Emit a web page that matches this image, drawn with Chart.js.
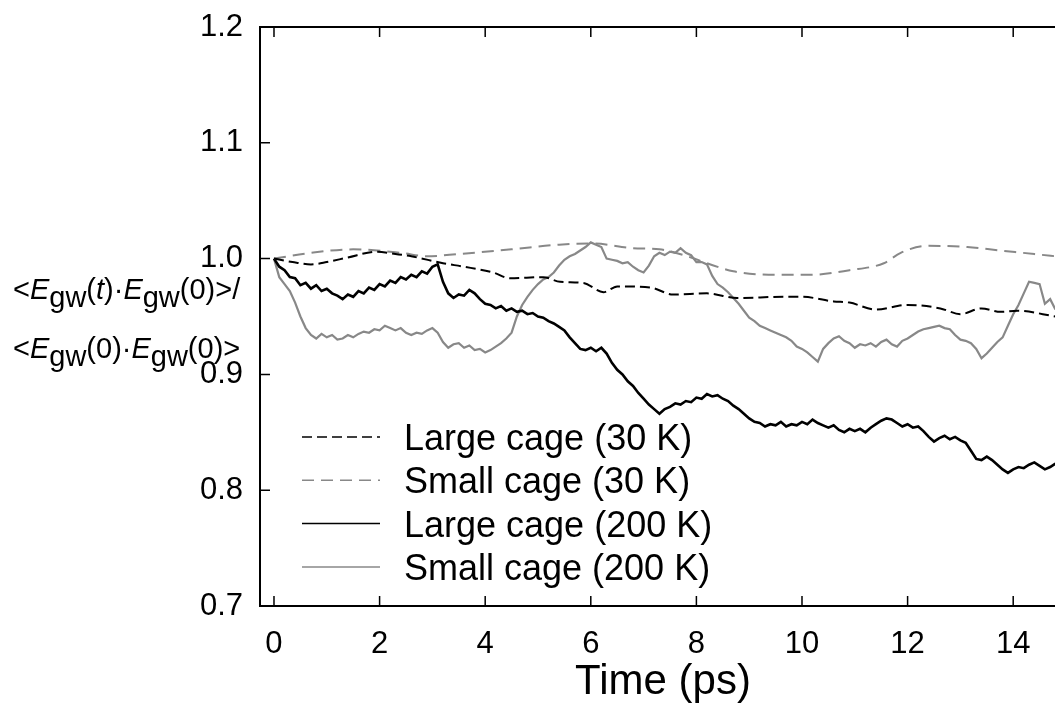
<!DOCTYPE html>
<html>
<head>
<meta charset="utf-8">
<script src="https://cdn.jsdelivr.net/npm/chart.js@4"></script>
<style>
  html, body { margin: 0; padding: 0; background: #fff; overflow: hidden; }
  #wrap { width: 1080px; height: 708px; }
</style>
</head>
<body>
<div id="wrap"><canvas id="myChart" width="1080" height="708"></canvas></div>
<script>
const xTicks = [0, 2, 4, 6, 8, 10, 12, 14];
const yTicks = [0.7, 0.8, 0.9, 1.0, 1.1, 1.2];

const seriesLabels = ["Large cage (30 K)", "Small cage (30 K)", "Large cage (200 K)", "Small cage (200 K)"];

// 30 K runs (smooth)
const large30Time = [0, 0.35, 0.7, 1.0, 1.4, 1.95, 2.3, 2.6, 3.2, 3.6, 4.15, 4.47, 5.1, 5.42, 5.86, 6.24, 6.5, 7.13, 7.56, 8.2, 8.77, 9.65, 10.0, 10.6, 10.9, 11.4, 12.0, 12.62, 13.0, 13.4, 13.76, 14.08, 14.8];
const large30Val = [1.0, 0.997, 0.995, 0.997, 1.001, 1.006, 1.004, 1.002, 0.996, 0.993, 0.988, 0.983, 0.984, 0.980, 0.979, 0.971, 0.976, 0.975, 0.969, 0.970, 0.966, 0.967, 0.967, 0.963, 0.962, 0.956, 0.960, 0.957, 0.952, 0.957, 0.954, 0.955, 0.950];

const small30Time = [0, 0.7, 1.5, 2.4, 2.9, 3.5, 4.5, 5.4, 6.05, 6.8, 7.3, 7.9, 8.2, 8.7, 9.5, 10.16, 10.9, 11.55, 11.87, 12.37, 13.13, 13.76, 14.8];
const small30Val = [1.0, 1.005, 1.008, 1.005, 1.002, 1.004, 1.008, 1.012, 1.013, 1.009, 1.008, 1.001, 0.996, 0.989, 0.986, 0.986, 0.990, 0.996, 1.005, 1.011, 1.010, 1.007, 1.002];

// 200 K runs, sampled every 0.1 ps
const time200 = Array.from({ length: 149 }, (_, i) => +(i * 0.1).toFixed(1));
const large200Val = [
  1.000, 0.993, 0.990, 0.984, 0.983, 0.977, 0.979, 0.974, 0.977, 0.972,
  0.974, 0.970, 0.968, 0.965, 0.969, 0.967, 0.972, 0.970, 0.975, 0.973,
  0.978, 0.976, 0.981, 0.979, 0.984, 0.982, 0.986, 0.984, 0.989, 0.987,
  0.993, 0.995, 0.980, 0.970, 0.966, 0.969, 0.968, 0.973, 0.970, 0.965,
  0.961, 0.960, 0.957, 0.959, 0.955, 0.957, 0.954, 0.955, 0.952, 0.953,
  0.950, 0.949, 0.946, 0.944, 0.941, 0.938, 0.932, 0.927, 0.922, 0.921,
  0.923, 0.920, 0.923, 0.918, 0.910, 0.904, 0.900, 0.894, 0.890, 0.884,
  0.879, 0.874, 0.870, 0.866, 0.870, 0.872, 0.875, 0.874, 0.877, 0.876,
  0.880, 0.879, 0.883, 0.881, 0.882, 0.879, 0.877, 0.873, 0.870, 0.866,
  0.862, 0.859, 0.858, 0.855, 0.857, 0.856, 0.859, 0.855, 0.857, 0.856,
  0.859, 0.857, 0.861, 0.858, 0.856, 0.854, 0.856, 0.852, 0.850, 0.853,
  0.851, 0.853, 0.850, 0.854, 0.857, 0.860, 0.862, 0.861, 0.858, 0.855,
  0.857, 0.854, 0.855, 0.851, 0.846, 0.842, 0.845, 0.847, 0.844, 0.846,
  0.843, 0.841, 0.834, 0.827, 0.826, 0.829, 0.826, 0.822, 0.818, 0.815,
  0.818, 0.820, 0.819, 0.822, 0.824, 0.821, 0.818, 0.820, 0.823
];
const small200Val = [
  1.000, 0.984, 0.978, 0.972, 0.962, 0.950, 0.940, 0.934, 0.931, 0.935,
  0.932, 0.934, 0.930, 0.931, 0.934, 0.932, 0.935, 0.937, 0.936, 0.939,
  0.938, 0.942, 0.940, 0.938, 0.940, 0.936, 0.934, 0.936, 0.935, 0.938,
  0.940, 0.936, 0.928, 0.923, 0.926, 0.927, 0.923, 0.925, 0.921, 0.922,
  0.919, 0.921, 0.924, 0.927, 0.931, 0.936, 0.950, 0.960, 0.967, 0.973,
  0.978, 0.982, 0.984, 0.988, 0.994, 0.999, 1.002, 1.004, 1.007, 1.010,
  1.014, 1.012, 1.010, 1.000, 0.999, 0.998, 0.996, 0.997, 0.993, 0.990,
  0.988, 0.994, 1.002, 1.005, 1.003, 1.006, 1.005, 1.009, 1.005, 1.003,
  0.997, 0.997, 0.995, 0.985, 0.978, 0.975, 0.971, 0.966, 0.961, 0.955,
  0.949, 0.946, 0.942, 0.940, 0.938, 0.936, 0.934, 0.932, 0.929, 0.924,
  0.922, 0.919, 0.915, 0.911, 0.922, 0.927, 0.931, 0.933, 0.929, 0.927,
  0.923, 0.926, 0.925, 0.927, 0.924, 0.928, 0.930, 0.926, 0.924, 0.929,
  0.931, 0.934, 0.937, 0.939, 0.940, 0.941, 0.942, 0.940, 0.939, 0.934,
  0.930, 0.929, 0.927, 0.922, 0.914, 0.918, 0.923, 0.928, 0.932, 0.942,
  0.952, 0.960, 0.970, 0.980, 0.979, 0.978, 0.961, 0.965, 0.956
];

const FONT = "'Liberation Sans', Arial, sans-serif";
const GRAY = "#888888";

const pts = (ts, vs) => ts.map((t, i) => ({ x: t, y: vs[i] }));

const data = {
  datasets: [
    { label: seriesLabels[0], data: pts(large30Time, large30Val), borderColor: "#000", borderWidth: 2, borderDash: [10, 5], cubicInterpolationMode: "monotone" },
    { label: seriesLabels[1], data: pts(small30Time, small30Val), borderColor: GRAY, borderWidth: 2, borderDash: [12, 7], cubicInterpolationMode: "monotone" },
    { label: seriesLabels[2], data: pts(time200, large200Val), borderColor: "#000", borderWidth: 2.6 },
    { label: seriesLabels[3], data: pts(time200, small200Val), borderColor: GRAY, borderWidth: 2.2 },
  ],
};

// frame + inward ticks, legend box, rich y title
const decor = {
  id: "decor",
  afterDatasetsDraw(chart) {
    const { ctx, chartArea: a, scales } = chart;
    ctx.save();
    ctx.strokeStyle = "#000";
    ctx.lineWidth = 2;
    ctx.strokeRect(a.left, a.top, a.right - a.left, a.bottom - a.top);
    ctx.lineWidth = 1.5;
    ctx.beginPath();
    xTicks.forEach((v) => {
      const px = scales.x.getPixelForValue(v);
      ctx.moveTo(px, a.bottom); ctx.lineTo(px, a.bottom - 10);
      ctx.moveTo(px, a.top); ctx.lineTo(px, a.top + 10);
    });
    yTicks.forEach((v) => {
      const py = scales.y.getPixelForValue(v);
      ctx.moveTo(a.left, py); ctx.lineTo(a.left + 10, py);
      ctx.moveTo(a.right, py); ctx.lineTo(a.right - 10, py);
    });
    ctx.stroke();

    // legend
    ctx.font = "36px " + FONT;
    ctx.textBaseline = "middle";
    ctx.textAlign = "left";
    chart.data.datasets.forEach((ds, i) => {
      const y = 437 + i * 43.3;
      ctx.strokeStyle = ds.borderColor;
      ctx.lineWidth = 1.5;
      ctx.setLineDash(ds.borderDash || []);
      ctx.beginPath();
      ctx.moveTo(302, y); ctx.lineTo(380, y);
      ctx.stroke();
      ctx.setLineDash([]);
      ctx.fillStyle = "#000";
      ctx.fillText(ds.label, 404, y + 3);
    });

    // y title
    const lines = [
      [["<"], ["E", "i"], ["gw", "s"], ["("], ["t", "i"], [")"], ["\u00b7"], ["E", "i"], ["gw", "s"], ["(0)>/"]],
      [["<"], ["E", "i"], ["gw", "s"], ["(0)"], ["\u00b7"], ["E", "i"], ["gw", "s"], ["(0)>"]],
    ];
    ctx.textBaseline = "alphabetic";
    lines.forEach((segs, li) => {
      let x = 13;
      const base = li === 0 ? 299 : 358;
      segs.forEach(([txt, kind]) => {
        ctx.font = (kind === "i" ? "italic " : "") + "29px " + FONT;
        ctx.fillText(txt, x, base + (kind === "s" ? 8 : 0));
        x += ctx.measureText(txt).width;
      });
    });
    ctx.restore();
  },
};

const config = {
  type: "line",
  data: data,
  options: {
    responsive: false,
    animation: false,
    events: [],
    layout: { padding: { left: 0, top: 27, right: 14, bottom: 0 } },
    elements: { point: { radius: 0 }, line: { borderCapStyle: "butt" } },
    scales: {
      x: {
        type: "linear",
        min: -0.265,
        max: 15,
        afterBuildTicks: (axis) => { axis.ticks = xTicks.map((v) => ({ value: v })); },
        afterFit: (axis) => { axis.height = 102; axis.paddingLeft = 0; axis.paddingRight = 0; },
        grid: { display: false },
        border: { display: false },
        ticks: { color: "#000", font: { family: FONT, size: 31 }, padding: 12, maxRotation: 0, callback: (v) => String(v) },
        title: { display: true, text: "Time (ps)", color: "#000", font: { family: FONT, size: 42 }, padding: { top: 0, bottom: 0 } },
      },
      y: {
        min: 0.7,
        max: 1.2,
        afterBuildTicks: (axis) => { axis.ticks = yTicks.map((v) => ({ value: v })); },
        afterFit: (axis) => { axis.width = 260; axis.paddingTop = 0; axis.paddingBottom = 0; },
        grid: { display: false },
        border: { display: false },
        ticks: { color: "#000", font: { family: FONT, size: 31 }, padding: 9, callback: (v) => v.toFixed(1) },
      },
    },
    plugins: {
      legend: { display: false },
      tooltip: { enabled: false },
    },
  },
  plugins: [decor],
};

const myChart = new Chart(document.getElementById("myChart").getContext("2d"), config);
</script>
</body>
</html>
